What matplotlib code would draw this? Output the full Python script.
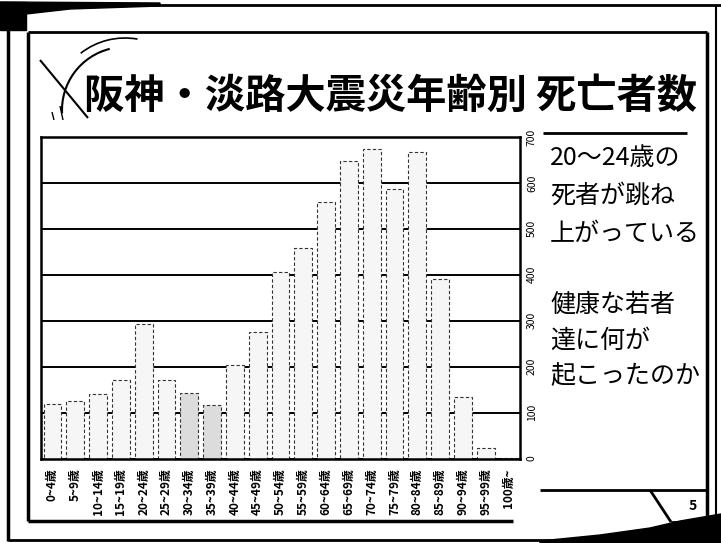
import matplotlib.pyplot as plt
from matplotlib.patches import Arc, Polygon
import numpy as np

plt.rcParams['font.family'] = ['Noto Sans CJK JP', 'DejaVu Sans']

# data
age_groups = ['0~4歳', '5~9歳', '10~14歳', '15~19歳', '20~24歳', '25~29歳', '30~34歳',
              '35~39歳', '40~44歳', '45~49歳', '50~54歳', '55~59歳', '60~64歳', '65~69歳',
              '70~74歳', '75~79歳', '80~84歳', '85~89歳', '90~94歳', '95~99歳', '100歳~']
deaths = [118, 126, 140, 170, 293, 170, 142, 116, 203, 275, 405, 458, 558, 648,
          674, 587, 668, 390, 134, 22, 2]
yticks = [0, 100, 200, 300, 400, 500, 600, 700]

title = '阪神・淡路大震災年齢別 死亡者数'
note_lines = ['20～24歳の', '死者が跳ね', '上がっている', '健康な若者', '達に何が', '起こったのか']
note_y = [158, 196, 234, 305, 341, 376]

W, H = 721, 543
fig = plt.figure(figsize=(W / 100, H / 100), dpi=100)

# overlay in pixel coordinates (y down) for the slide decoration
bg = fig.add_axes([0, 0, 1, 1])
bg.set_xlim(0, W)
bg.set_ylim(H, 0)
bg.axis('off')

def line(xs, ys, lw=2):
    bg.plot(xs, ys, color='black', lw=lw, solid_capstyle='butt')

# outer scanned frame
line([0, 721], [5, 5], 2)
line([8, 8], [5, 541], 2.5)
line([8, 600], [540, 540], 2)
line([716, 716], [5, 525], 1.5)
bg.add_patch(Polygon([(0, 2), (26, 2), (26, 30), (0, 30)], color='black'))
bg.add_patch(Polygon([(0, 2), (160, 3), (160, 6), (70, 9), (26, 14)], color='black'))
bg.add_patch(Polygon([(540, 541), (600, 535), (650, 528), (680, 521), (721, 514),
                      (721, 543), (540, 543)], color='black'))

# inner frame
line([28, 707], [32, 32], 2)
line([28, 28], [32, 521], 2.5)
line([28, 513], [521, 521], 2.5)
line([707, 707], [32, 522], 2.5)
# page number box
line([540, 707], [490, 490], 2)
line([650, 671], [490, 522], 2)
line([671, 707], [522, 522], 2)
bg.text(693, 506, '5', fontsize=10, fontweight='bold', ha='center', va='center')

# title decoration (angles flipped because y points down here)
line([40, 88], [60, 118], 1.5)
bg.add_patch(Arc((125, 110), 126, 126, theta1=177, theta2=256, color='black', lw=1.5))
bg.add_patch(Arc((125, 110), 144, 144, theta1=232, theta2=280, color='black', lw=1.2))
line([52, 54], [112, 120], 1)
line([60, 63], [106, 120], 1)

bg.text(390, 96, title, fontsize=29, fontweight='bold', ha='center', va='center')

# note on the right
line([543, 687], [133, 133], 2)
for txt, y in zip(note_lines, note_y):
    bg.text(550, y, txt, fontsize=18, ha='left', va='center')

# the chart
ax = fig.add_axes([41 / W, 1 - 458.5 / H, (520 - 41) / W, (458.5 - 137) / H])
ax.set_facecolor('none')
x = np.arange(len(age_groups))
face = ['#f6f6f6'] * len(age_groups)
face[6] = face[7] = '#dcdcdc'
ax.bar(x, deaths, width=0.78, color=face, edgecolor='#333333',
       linewidth=0.8, linestyle=(0, (3, 2)))
ax.set_xlim(-0.5, len(age_groups) - 0.5)
ax.set_ylim(0, 700)
ax.set_yticks(yticks)
ax.yaxis.tick_right()
ax.set_yticklabels([str(v) for v in yticks], rotation=90, fontsize=7.5, va='center')
ax.tick_params(axis='y', length=0, pad=5)
ax.set_xticks(x)
ax.set_xticklabels(age_groups, rotation=90, fontsize=8.5, fontweight='bold')
ax.tick_params(axis='x', length=0, pad=7)
ax.set_axisbelow(True)
ax.yaxis.grid(True, color='black', lw=1.4)
for s in ax.spines.values():
    s.set_linewidth(1.8)

fig.savefig('out.png', dpi=100)
